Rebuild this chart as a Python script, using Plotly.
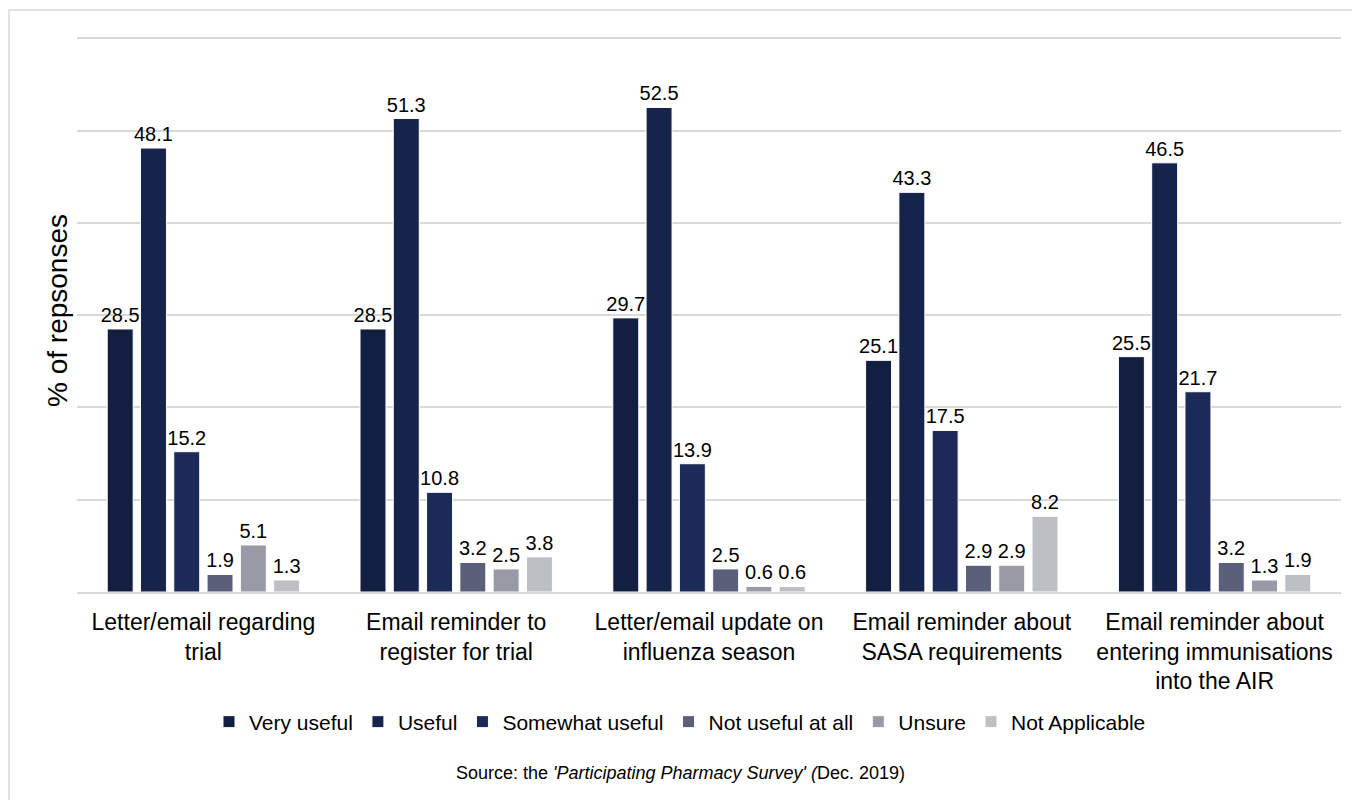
import plotly.graph_objects as go

categories = [
    "Letter/email regarding<br>trial",
    "Email reminder to<br>register for trial",
    "Letter/email update on<br>influenza season",
    "Email reminder about<br>SASA requirements",
    "Email reminder about<br>entering immunisations<br>into the AIR",
]
series_names = ["Very useful", "Useful", "Somewhat useful", "Not useful at all", "Unsure", "Not Applicable"]
very_useful = [28.5, 28.5, 29.7, 25.1, 25.5]
useful = [48.1, 51.3, 52.5, 43.3, 46.5]
somewhat_useful = [15.2, 10.8, 13.9, 17.5, 21.7]
not_useful = [1.9, 3.2, 2.5, 2.9, 3.2]
unsure = [5.1, 2.5, 0.6, 2.9, 1.3]
not_applicable = [1.3, 3.8, 0.6, 8.2, 1.9]
colors = ["#131F40", "#16244C", "#1B2A57", "#5A5F7A", "#989AA6", "#BEBFC4"]

series_values = [very_useful, useful, somewhat_useful, not_useful, unsure, not_applicable]

fig = go.Figure()
for name, vals, col in zip(series_names, series_values, colors):
    fig.add_trace(go.Bar(
        name=name, x=categories, y=vals,
        marker=dict(color=col, line=dict(color="white", width=1)),
        text=[f"{v:.1f}" for v in vals], textposition="outside",
        textfont=dict(size=20, color="#000000"),
        cliponaxis=False,
    ))

W, H = 1360, 800
ml, mr, mt, mb = 69, 27, 21, 216
pw, ph = W - ml - mr, H - mt - mb

def px_x(p):
    return (p - ml) / pw

def px_y(p):
    return (H - mb - p) / ph

fig.add_shape(type="rect", xref="paper", yref="paper",
              x0=px_x(1), x1=px_x(W + 10), y0=px_y(H + 10), y1=px_y(2),
              line=dict(color="#D9D9D9", width=1.5), fillcolor="rgba(0,0,0,0)", layer="below")

fig.add_annotation(
    text="Source: the <i>'Participating Pharmacy Survey' (</i>Dec. 2019)",
    xref="paper", yref="paper", x=px_x(672), y=px_y(765), showarrow=False,
    font=dict(size=18, color="#000000"), xanchor="center", yanchor="middle",
)

fig.update_layout(
    width=W, height=H,
    margin=dict(l=ml, r=mr, t=mt, b=mb),
    paper_bgcolor="white", plot_bgcolor="white",
    font=dict(family="Liberation Sans, Arial, sans-serif", color="#000000"),
    barmode="group", bargap=0.21, bargroupgap=0.22,
    uniformtext=dict(minsize=20, mode="show"),
    showlegend=True,
    legend=dict(orientation="h", x=px_x(672), xanchor="center", y=px_y(714), yanchor="middle",
                font=dict(size=21), itemwidth=30, traceorder="normal"),
    xaxis=dict(showline=True, linecolor="#D9D9D9", linewidth=2, ticks="",
               tickfont=dict(size=23), ticklabelstandoff=8, showgrid=False),
    yaxis=dict(range=[0, 61], dtick=10, showgrid=True, gridcolor="#D9D9D9", gridwidth=1.5,
               showticklabels=False, zeroline=False,
               title=dict(text="% of repsonses", font=dict(size=28), standoff=0)),
)

fig.write_html("out.html")
